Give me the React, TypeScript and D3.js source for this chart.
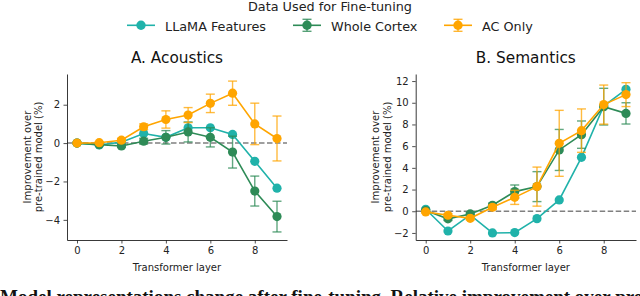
import React, { useEffect, useRef } from 'react';
import * as d3 from 'd3';

const layers = [0, 1, 2, 3, 4, 5, 6, 7, 8, 9];

// A. Acoustics
const acLlama = [0, -0.1, 0.05, 0.5, 0.3, 0.8, 0.8, 0.45, -0.95, -2.35];
const acWhole = [0, -0.08, -0.15, 0.1, 0.3, 0.58, 0.3, -0.47, -2.5, -3.83];
const acWholeErr = [0.03, 0.05, 0.08, 0.15, 0.35, 0.52, 0.5, 0.83, 0.78, 0.8];
const acAc = [0, 0.02, 0.15, 0.85, 1.23, 1.46, 2.07, 2.6, 1.0, 0.24];
const acAcErr = [0.03, 0.05, 0.1, 0.15, 0.45, 0.39, 0.48, 0.63, 1.08, 1.17];

// B. Semantics
const seLlama = [0.18, -1.82, -0.34, -2.0, -1.97, -0.68, 1.04, 4.97, 9.7, 11.24];
const seWhole = [0.06, -0.7, -0.25, 0.55, 1.81, 2.27, 5.65, 7.06, 9.64, 9.02];
const seWholeErr = [0.1, 0.15, 0.15, 0.2, 0.61, 1.38, 1.89, 1.26, 1.69, 0.98];
const seAc = [-0.06, -0.37, -0.65, 0.37, 1.28, 2.27, 6.26, 7.43, 9.83, 10.75];
const seAcErr = [0.1, 0.15, 0.15, 0.2, 0.65, 1.8, 3.04, 2.0, 1.8, 1.1];

const seriesNames = ['LLaMA Features', 'Whole Cortex', 'AC Only'];
const seriesColors = ['#20b2aa', '#2e8b57', '#ffa500'];

const FONT = 'DejaVu Sans, sans-serif';

interface Panel {
  title: string;
  left: number;
  right: number;
  yDomain: [number, number];
  yTicks: number[];
  series: { values: number[]; err: number[] | null }[];
}

const panels: Panel[] = [
  {
    title: 'A. Acoustics',
    left: 67,
    right: 287,
    yDomain: [-5.05, 3.6],
    yTicks: [-4, -2, 0, 2],
    series: [
      { values: acLlama, err: null },
      { values: acWhole, err: acWholeErr },
      { values: acAc, err: acAcErr },
    ],
  },
  {
    title: 'B. Semantics',
    left: 415.7,
    right: 636,
    yDomain: [-2.65, 12.65],
    yTicks: [-2, 0, 2, 4, 6, 8, 10, 12],
    series: [
      { values: seLlama, err: null },
      { values: seWhole, err: seWholeErr },
      { values: seAc, err: seAcErr },
    ],
  },
];

export default function App() {
  const svgRef = useRef<SVGSVGElement>(null);

  useEffect(() => {
    if (!svgRef.current) return;
    const svg = d3.select(svgRef.current);
    svg.selectAll('*').remove();

    const top = 74;
    const bottom = 240;
    const fmt = (v: number) => (v < 0 ? '\u2212' + Math.abs(v) : String(v));

    // legend
    svg.append('text')
      .attr('x', 330).attr('y', 11)
      .attr('text-anchor', 'middle')
      .style('font', `12.8px ${FONT}`)
      .attr('fill', '#222')
      .text('Data Used for Fine-tuning');

    const legendX = [127, 293, 444];
    seriesNames.forEach((name, i) => {
      const g = svg.append('g').attr('transform', `translate(${legendX[i]},25.3)`);
      g.append('line').attr('x1', 0).attr('x2', 28).attr('y1', 0).attr('y2', 0)
        .attr('stroke', seriesColors[i]).attr('stroke-width', 1.6);
      if (i > 0) {
        g.append('line').attr('x1', 14).attr('x2', 14).attr('y1', -6).attr('y2', 6)
          .attr('stroke', seriesColors[i]).attr('stroke-width', 1.4).attr('opacity', 0.8);
        [-6, 6].forEach(dy => g.append('line').attr('x1', 9.5).attr('x2', 18.5)
          .attr('y1', dy).attr('y2', dy)
          .attr('stroke', seriesColors[i]).attr('stroke-width', 1.4).attr('opacity', 0.8));
      }
      g.append('circle').attr('cx', 14).attr('cy', 0).attr('r', 4.7).attr('fill', seriesColors[i]);
      g.append('text').attr('x', 38).attr('y', 5.4)
        .style('font', `12.8px ${FONT}`).attr('fill', '#222').text(name);
    });

    panels.forEach(p => {
      const x = d3.scaleLinear().domain([-0.45, 9.45]).range([p.left, p.right]);
      const y = d3.scaleLinear().domain(p.yDomain).range([bottom, top]);
      const g = svg.append('g');

      // title
      g.append('text')
        .attr('x', (x(0) + x(9)) / 2).attr('y', 62.7)
        .attr('text-anchor', 'middle')
        .style('font', `15.3px ${FONT}`).attr('fill', '#111')
        .text(p.title);

      // zero line
      g.append('line')
        .attr('x1', p.left).attr('x2', p.right)
        .attr('y1', y(0)).attr('y2', y(0))
        .attr('stroke', '#808080').attr('stroke-width', 1.5)
        .attr('stroke-dasharray', '5.5,2.5');

      // axes
      const xAxis = g.append('g').attr('transform', `translate(0,${bottom})`)
        .call(d3.axisBottom(x).tickValues([0, 2, 4, 6, 8]).tickSize(3.5).tickPadding(3.5).tickSizeOuter(0));
      const yAxis = g.append('g').attr('transform', `translate(${p.left},0)`)
        .call(d3.axisLeft(y).tickValues(p.yTicks).tickFormat(d => fmt(+d)).tickSize(3.5).tickPadding(3.5).tickSizeOuter(0));
      [xAxis, yAxis].forEach(a => {
        a.selectAll('text').style('font', `10px ${FONT}`).attr('fill', '#222');
        a.selectAll('line').attr('stroke', '#222').attr('stroke-width', 0.8);
        a.select('.domain').attr('stroke', '#222').attr('stroke-width', 0.9);
      });

      // axis labels
      g.append('text')
        .attr('x', (x(0) + x(9)) / 2).attr('y', 271)
        .attr('text-anchor', 'middle')
        .style('font', `10px ${FONT}`).attr('fill', '#222')
        .text('Transformer layer');
      const ly = g.append('text')
        .attr('transform', `translate(${p.left - 36.5},157) rotate(-90)`)
        .attr('text-anchor', 'middle')
        .style('font', `10px ${FONT}`).attr('fill', '#222');
      ly.append('tspan').attr('x', 0).attr('y', 0).text('Improvement over');
      ly.append('tspan').attr('x', 0).attr('y', 11.5).text('pre-trained model (%)');

      // series
      const line = d3.line<number>().x((_, i) => x(layers[i])).y(d => y(d));
      p.series.forEach((s, si) => {
        const color = seriesColors[si];
        const sg = g.append('g');
        if (s.err) {
          const err = s.err;
          s.values.forEach((v, i) => {
            const cx = x(layers[i]);
            const y1 = y(v - err[i]);
            const y2 = y(v + err[i]);
            sg.append('line').attr('x1', cx).attr('x2', cx).attr('y1', y1).attr('y2', y2)
              .attr('stroke', color).attr('stroke-width', 1.4).attr('opacity', 0.75);
            [y1, y2].forEach(yy => sg.append('line')
              .attr('x1', cx - 4.5).attr('x2', cx + 4.5).attr('y1', yy).attr('y2', yy)
              .attr('stroke', color).attr('stroke-width', 1.4).attr('opacity', 0.75));
          });
        }
        sg.append('path').datum(s.values).attr('d', line)
          .attr('fill', 'none').attr('stroke', color).attr('stroke-width', 1.6);
        sg.selectAll('circle').data(s.values).join('circle')
          .attr('cx', (_, i) => x(layers[i])).attr('cy', d => y(d))
          .attr('r', 4.6).attr('fill', color);
      });
    });

    // caption fragment cut off at the bottom, as in the source figure
    svg.append('text')
      .attr('x', 0).attr('y', 303)
      .style('font', 'bold 19px "Liberation Serif", serif').attr('fill', '#111')
      .text('Model representations change after fine-tuning. Relative improvement over pre-trained');
  }, []);

  return (
    <svg
      ref={svgRef}
      width={640}
      height={296}
      style={{ position: 'absolute', left: 0, top: 0, background: '#fff' }}
    />
  );
}
